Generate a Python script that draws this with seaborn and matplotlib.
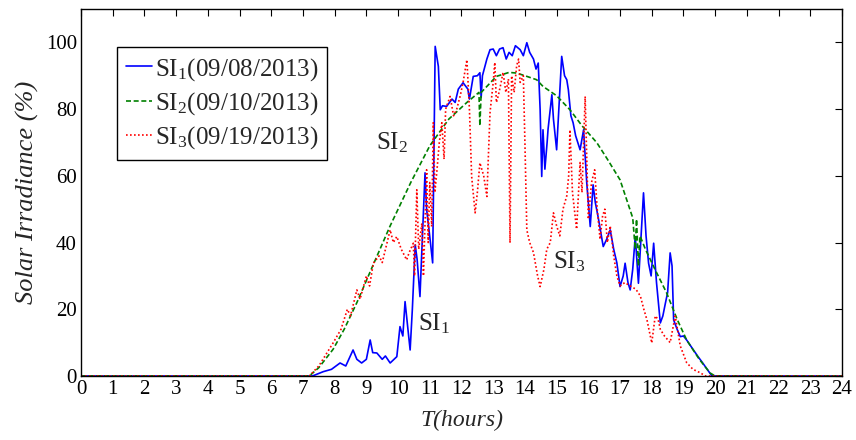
import matplotlib
matplotlib.use("Agg")
import matplotlib.pyplot as plt
import seaborn as sns
import numpy as np

# ---- data (hours, % irradiance) ----
t1 = [0, 7.3, 7.64, 7.9, 8.17, 8.35, 8.58, 8.7, 8.85, 9.0, 9.12, 9.2, 9.33, 9.5, 9.6, 9.75, 9.96,
      10.06, 10.15, 10.22, 10.3, 10.38, 10.45, 10.54, 10.6, 10.69, 10.85, 10.9, 10.95, 11.02, 11.09,
      11.17, 11.27, 11.33, 11.4, 11.53, 11.7, 11.8, 11.9, 12.05, 12.2, 12.25, 12.37, 12.5, 12.58,
      12.62, 12.66, 12.8, 12.9, 13.0, 13.1, 13.2, 13.31, 13.41, 13.5, 13.6, 13.7, 13.85, 13.95,
      14.06, 14.15, 14.27, 14.35, 14.42, 14.48, 14.53, 14.57, 14.63, 14.7, 14.73, 14.85, 14.9,
      15.0, 15.16, 15.25, 15.32, 15.37, 15.45, 15.52, 15.6, 15.74, 15.85, 15.95, 16.06, 16.15,
      16.22, 16.31, 16.47, 16.58, 16.69, 16.8, 16.9, 17.0, 17.1, 17.16, 17.25, 17.32, 17.4, 17.48,
      17.58, 17.74, 17.82, 17.9, 17.98, 18.06, 18.15, 18.27, 18.35, 18.43, 18.5, 18.58, 18.64,
      18.69, 18.8, 18.9, 19.0, 19.1, 19.3, 19.46, 19.6, 19.83, 19.9, 24]
si1 = [0, 0, 1.3, 2, 3.9, 3, 7.8, 5, 3.9, 5, 10.8, 7, 6.9, 5, 6, 3.9, 5.8,
       14.8, 12, 22.3, 15, 7.8, 20, 39.3, 35, 23.8, 60.9, 50, 45.9, 40, 33.9,
       98.8, 92.8, 79.8, 81, 80.8, 83, 82, 86, 87.9, 86, 83, 89.8, 90, 90.9,
       83.5, 90, 95, 97.8, 98, 96, 98, 98.4, 95, 97, 96, 99, 97.8, 96,
       99.9, 97, 95, 92, 93.8, 79.8, 59.8, 73.8, 62, 70, 74, 84.3, 77,
       67.8, 95.8, 90, 88.8, 85.8, 78, 75.9, 72, 67.8, 73.8, 57.9, 44.8, 57.3,
       52, 47.6, 38.8, 41, 43.8, 38, 33.9, 26.8, 30, 33.8, 28, 25.8, 32, 41.8,
       27.8, 54.9, 42, 33.8, 30, 39.8, 28, 15.9, 18, 21.8, 25, 36.9, 33,
       16.8, 14, 11.8, 12, 10.8, 8, 5.8, 4, 0.9, 0, 0]

t2 = [0, 7.2, 7.5, 7.95, 8.3, 8.7, 9.2, 9.75, 10.4, 11.0, 11.6, 12.17, 12.55, 12.58, 12.62,
      13.1, 13.5, 13.74, 14.0, 14.37, 14.57, 15.0, 15.42, 15.8, 16.27, 16.6, 17.0, 17.4, 17.48,
      17.52, 17.58, 17.63, 17.8, 18.1, 18.47, 18.8, 19.1, 19.5, 19.84, 20.0, 24]
si2 = [0, 0, 2.5, 8, 14, 22, 33, 45, 58, 69, 77, 82, 85, 75, 85,
       89.8, 91, 90.8, 90, 88.8, 86.8, 84, 79.8, 75, 69.9, 65, 58.8, 47.4, 38,
       47, 33, 42, 38, 32, 24.9, 17, 10.8, 5, 0.9, 0, 0]

t3 = [0, 7.2, 7.5, 7.95, 8.2, 8.4, 8.5, 8.7, 8.8, 9.0, 9.1, 9.22, 9.4, 9.5, 9.75, 9.85, 9.96,
      10.1, 10.27, 10.35, 10.48, 10.52, 10.59, 10.65, 10.75, 10.8, 10.9, 10.95, 11.0, 11.06,
      11.11, 11.16, 11.22, 11.3, 11.38, 11.45, 11.5, 11.64, 11.75, 11.85, 11.96, 12.05, 12.17,
      12.25, 12.32, 12.43, 12.5, 12.58, 12.7, 12.8, 12.9, 13.0, 13.05, 13.1, 13.16, 13.25, 13.31,
      13.4, 13.48, 13.53, 13.58, 13.66, 13.74, 13.8, 13.85, 13.95, 14.0, 14.06, 14.15, 14.27,
      14.4, 14.48, 14.6, 14.69, 14.8, 14.9, 15.0, 15.1, 15.2, 15.32, 15.38, 15.42, 15.5, 15.63,
      15.74, 15.8, 15.9, 16.0, 16.1, 16.2, 16.28, 16.37, 16.45, 16.52, 16.6, 16.69, 16.8, 16.9,
      17.0, 17.15, 17.32, 17.5, 17.64, 17.75, 17.85, 18.0, 18.11, 18.2, 18.27, 18.4, 18.58,
      18.74, 18.9, 19.1, 19.3, 19.52, 19.7, 24]
si3 = [0, 0, 3, 9.9, 14, 20, 18, 25.8, 23, 30, 27, 33.8, 36, 34, 43.8, 40, 41.8,
       38, 34.8, 37, 39.8, 30, 55.8, 38, 45.8, 30, 61.8, 40, 58, 44.8,
       75.9, 55, 61, 70, 75.9, 65, 80, 83.8, 78, 80, 84, 88, 94.8,
       80, 59.8, 48.9, 55, 63.9, 60, 53.8, 79, 88, 94, 82, 84, 88, 91,
       85, 89, 39.9, 90, 85, 93, 95, 88, 90, 70, 43.8, 40, 37,
       30, 26.8, 32, 38, 40, 48.9, 45, 42, 50, 54, 60, 73.8, 55, 44,
       64, 55, 83.8, 47, 58, 61.8, 50, 41, 48, 50, 40, 45, 36, 30,
       27, 28, 27, 26, 24, 20, 16.8, 9.9, 18, 17, 14, 12, 10,
       18, 9, 4, 2, 1, 0, 0]

labels = [r"SI$_1$(09/08/2013)", r"SI$_2$(09/10/2013)", r"SI$_3$(09/19/2013)"]
x_ticks = list(range(0, 25))
y_ticks = [0, 20, 40, 60, 80, 100]

# ---- style ----
sns.set_theme(style="white")
plt.rcParams["font.family"] = ["Liberation Serif", "DejaVu Serif"]
plt.rcParams["mathtext.fontset"] = "custom"
plt.rcParams["mathtext.rm"] = "Liberation Serif"
plt.rcParams["mathtext.it"] = "Liberation Serif:italic"

fig = plt.figure(figsize=(8.56, 4.40), dpi=100)
ax = fig.add_axes([81 / 856, 64 / 440, 761 / 856, 367 / 440])

sns.lineplot(x=t1, y=si1, ax=ax, color=(0, 0, 1), linewidth=1.2, sort=False,
             estimator=None, label=labels[0])
sns.lineplot(x=t2, y=si2, ax=ax, color=(0, 0.5, 0), linewidth=1.2, sort=False,
             estimator=None, label=labels[1], dashes=False)
sns.lineplot(x=t3, y=si3, ax=ax, color=(1, 0, 0), linewidth=1.2, sort=False,
             estimator=None, label=labels[2], dashes=False)
lines = ax.get_lines()
lines[1].set_dashes((3, 1.6))
lines[2].set_dashes((1, 1.4))

ax.set_xlim(0, 24)
ax.set_ylim(0, 110)
ax.set_xticks(x_ticks)
ax.set_yticks(y_ticks)
ax.tick_params(direction="in", length=5, width=0.8, top=True, right=True,
               labelsize=15, colors="black", pad=3)
for sp in ax.spines.values():
    sp.set_visible(True)
    sp.set_color("black")
    sp.set_linewidth(1.0)

ax.set_xlabel("T(hours)", fontsize=17, style="italic", labelpad=8)
ax.set_ylabel("Solar Irradiance (%)", fontsize=19, style="italic", labelpad=5)

ax.text(9.3, 68, r"SI$_2$", fontsize=18, ha="left", va="baseline")
ax.text(10.63, 13.8, r"SI$_1$", fontsize=18, ha="left", va="baseline")
ax.text(14.89, 32.4, r"SI$_3$", fontsize=18, ha="left", va="baseline")

leg = ax.legend(loc="upper left", bbox_to_anchor=((117 - 81) / 761, (376 - 47) / 367),
                fontsize=18, frameon=True, fancybox=False, edgecolor="black",
                framealpha=1, borderaxespad=0, handlelength=1.05, handletextpad=0.12,
                labelspacing=0.3, borderpad=0.35)
leg.get_frame().set_linewidth(1.0)

fig.savefig("out.png", dpi=100)
